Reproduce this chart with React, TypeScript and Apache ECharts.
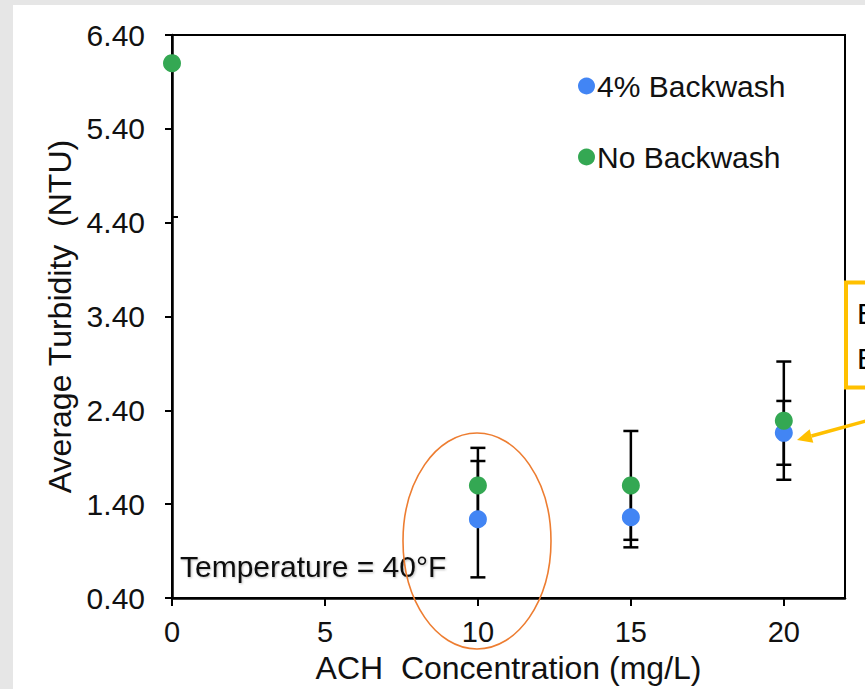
import React, { useEffect, useRef } from "react";
import * as echarts from "echarts";

// ---- data ----
const xTicks = [0, 5, 10, 15, 20];
const yTicks = [0.4, 1.4, 2.4, 3.4, 4.4, 5.4, 6.4];

const xBackwash4 = [10, 15, 20];
const backwash4 = [1.24, 1.26, 2.16];
const backwash4Err = [0.62, 0.32, 0.34];

const xNoBackwash = [0, 10, 15, 20];
const noBackwash = [6.1, 1.6, 1.6, 2.29];
const noBackwashErr = [0, 0.4, 0.58, 0.63];

const seriesNames = ["4% Backwash", "No Backwash"];
const seriesColors = ["#4285F4", "#34A853"];

const FONT = "'Liberation Sans', Arial, sans-serif";
const TEXT = "#111";

function errRows(xs: number[], ys: number[], es: number[]) {
  const rows: number[][] = [];
  xs.forEach((x, i) => {
    if (es[i] > 0) rows.push([x, ys[i] - es[i], ys[i] + es[i]]);
  });
  return rows;
}

function errRender(params: any, api: any) {
  const x = api.value(0);
  const lo = api.value(1);
  const hi = api.value(2);
  const top = api.coord([x, hi]);
  const bot = api.coord([x, lo]);
  const w = 7.5;
  const style = { stroke: "#000", lineWidth: 2.5 };
  return {
    type: "group",
    children: [
      { type: "line", shape: { x1: top[0], y1: top[1], x2: bot[0], y2: bot[1] }, style },
      { type: "line", shape: { x1: top[0] - w, y1: top[1], x2: top[0] + w, y2: top[1] }, style },
      { type: "line", shape: { x1: bot[0] - w, y1: bot[1], x2: bot[0] + w, y2: bot[1] }, style },
    ],
  };
}

export default function App() {
  const ref = useRef<HTMLDivElement>(null);

  useEffect(() => {
    if (!ref.current) return;
    const chart = echarts.init(ref.current, undefined, { renderer: "svg" });

    const tip = [797, 440];
    const start = [866, 421];
    const dx = tip[0] - start[0];
    const dy = tip[1] - start[1];
    const len = Math.sqrt(dx * dx + dy * dy);
    const ux = dx / len;
    const uy = dy / len;
    const hl = 15;
    const hw = 7;
    const bx = tip[0] - ux * hl;
    const by = tip[1] - uy * hl;

    chart.setOption({
      animation: false,
      backgroundColor: "transparent",
      textStyle: { fontFamily: FONT },
      grid: {
        left: 172,
        top: 35,
        right: 20,
        bottom: 87,
        show: true,
        borderColor: "#000",
        borderWidth: 2,
        containLabel: false,
      },
      legend: {
        data: seriesNames,
        orient: "vertical",
        left: 578,
        top: 71,
        padding: 0,
        icon: "circle",
        itemWidth: 17,
        itemHeight: 17,
        itemGap: 41,
        textStyle: { fontSize: 30, color: TEXT, fontFamily: FONT, padding: [0, 0, 0, -3] },
      },
      xAxis: {
        type: "value",
        min: 0,
        max: 22,
        name: "ACH  Concentration (mg/L)",
        nameLocation: "middle",
        nameGap: 54,
        nameTextStyle: { fontSize: 32, color: TEXT, fontFamily: FONT },
        axisLine: { show: true, onZero: false, lineStyle: { color: "#000", width: 2.5 } },
        axisTick: { show: true, inside: false, length: 8, customValues: xTicks, lineStyle: { color: "#000", width: 2 } },
        axisLabel: { customValues: xTicks, margin: 19, fontSize: 29, color: TEXT, fontFamily: FONT },
        splitLine: { show: false },
      },
      yAxis: {
        type: "value",
        min: 0.4,
        max: 6.4,
        name: "Average Turbidity  (NTU)",
        nameLocation: "middle",
        nameGap: 96,
        nameTextStyle: { fontSize: 32, color: TEXT, fontFamily: FONT },
        axisLine: { show: true, onZero: false, lineStyle: { color: "#000", width: 2.5 } },
        axisTick: { show: true, inside: false, length: 7, customValues: yTicks, lineStyle: { color: "#000", width: 2 } },
        axisLabel: {
          customValues: yTicks,
          margin: 27,
          fontSize: 30,
          color: TEXT,
          fontFamily: FONT,
          formatter: (v: number) => v.toFixed(2),
        },
        splitLine: { show: false },
      },
      series: [
        {
          name: "err4",
          type: "custom",
          renderItem: errRender,
          encode: { x: 0, y: [1, 2] },
          data: errRows(xBackwash4, backwash4, backwash4Err),
          z: 1,
          silent: true,
        },
        {
          name: "errNo",
          type: "custom",
          renderItem: errRender,
          encode: { x: 0, y: [1, 2] },
          data: errRows(xNoBackwash, noBackwash, noBackwashErr),
          z: 1,
          silent: true,
        },
        {
          name: seriesNames[0],
          type: "scatter",
          symbol: "circle",
          symbolSize: 18,
          itemStyle: { color: seriesColors[0], opacity: 1 },
          data: xBackwash4.map((x, i) => [x, backwash4[i]]),
          z: 3,
        },
        {
          name: seriesNames[1],
          type: "scatter",
          symbol: "circle",
          symbolSize: 18,
          itemStyle: { color: seriesColors[1], opacity: 1 },
          data: xNoBackwash.map((x, i) => [x, noBackwash[i]]),
          z: 3,
        },
      ],
      graphic: [
        {
          type: "text",
          x: 180,
          y: 566,
          style: {
            text: "Temperature = 40°F",
            font: `30px ${FONT}`,
            fill: TEXT,
            verticalAlign: "middle",
            align: "left",
            textShadowColor: "rgba(0,0,0,0.25)",
            textShadowBlur: 2,
            textShadowOffsetX: 1,
            textShadowOffsetY: 1,
          },
          z: 5,
        },
        {
          type: "line",
          shape: { x1: 172, y1: 217, x2: 178, y2: 217 },
          style: { stroke: "#000", lineWidth: 2 },
          z: 5,
        },
        {
          type: "ellipse",
          shape: { cx: 477, cy: 541, rx: 74, ry: 108 },
          style: { fill: "none", stroke: "#ED7D31", lineWidth: 1.6 },
          z: 10,
        },
        {
          type: "rect",
          shape: { x: 846, y: 282.5, width: 40, height: 105 },
          style: { fill: "#fff", stroke: "#FFC000", lineWidth: 4 },
          z: 10,
        },
        {
          type: "text",
          x: 857,
          y: 313,
          style: { text: "B", font: `30px ${FONT}`, fill: "#000", verticalAlign: "middle" },
          z: 11,
        },
        {
          type: "text",
          x: 857,
          y: 358,
          style: { text: "E", font: `30px ${FONT}`, fill: "#000", verticalAlign: "middle" },
          z: 11,
        },
        {
          type: "line",
          shape: { x1: start[0], y1: start[1], x2: bx, y2: by },
          style: { stroke: "#FFC000", lineWidth: 3.5 },
          z: 10,
        },
        {
          type: "polygon",
          shape: {
            points: [
              [tip[0], tip[1]],
              [bx - uy * hw, by + ux * hw],
              [bx + uy * hw, by - ux * hw],
            ],
          },
          style: { fill: "#FFC000" },
          z: 10,
        },
      ],
    });

    return () => chart.dispose();
  }, []);

  return (
    <div style={{ position: "absolute", left: 0, top: 0, width: 865, height: 689, background: "#e6e6e6", overflow: "hidden" }}>
      <div style={{ position: "absolute", left: 13, top: 5, right: 0, bottom: 0, background: "#fff" }} />
      <div ref={ref} style={{ position: "absolute", left: 0, top: 0, width: 865, height: 689 }} />
    </div>
  );
}
